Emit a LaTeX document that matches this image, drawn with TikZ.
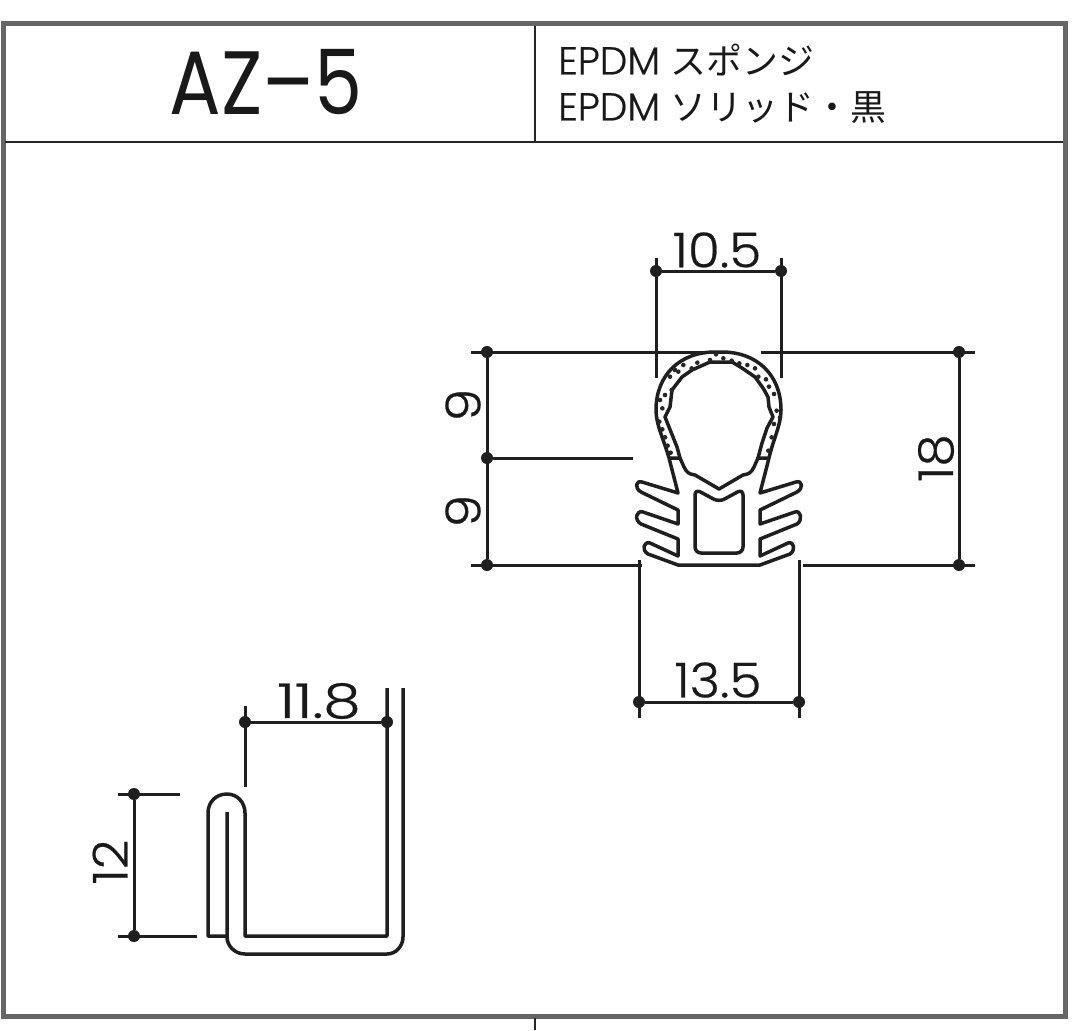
\documentclass[tikz,border=0pt]{standalone}
\usepackage{fontspec}
\setmainfont{Poppins}[UprightFont=* Light]
\newfontfamily\dimfont{Poppins}[UprightFont=* Light,FakeBold=0.5]
\newfontfamily\titlefont{Poppins}
\newfontfamily\jpfont{Noto Sans CJK JP}[Scale=0.92]
\tikzset{
  frameline/.style={draw=black!60,line width=5pt},
  thinline/.style={draw=black!85,line width=1.5pt},
  dimline/.style={draw=black!88,line width=3pt},
  profile/.style={draw=black!88,line width=3.5pt,line join=round},
  dimdot/.style={circle,fill=black!88,inner sep=0pt,minimum size=12pt},
  spk/.style={circle,fill=black!85,inner sep=0pt,minimum size=4.6pt},
  dimtext/.style={inner sep=0pt,font=\dimfont\fontsize{48}{48}\selectfont,text=black!90},
  headtext/.style={inner sep=0pt,anchor=west,text=black!90,font=\dimfont\fontsize{39}{42}\selectfont}
}
\begin{document}
\begin{tikzpicture}[x=1pt,y=-1pt]
\useasboundingbox (0,0) rectangle (1078,1030);
% frame
\draw[frameline] (3,1016) -- (3,24) -- (1065,24) -- (1065,1016) -- cycle;
\coordinate (hl) at (5,142); \coordinate (hr) at (1063,142);
\draw[thinline] (hl) -- (hr);
\coordinate (vt) at (535,26); \coordinate (vb) at (535,142);
\draw[thinline] (vt) -- (vb);
\coordinate (tt) at (535,1018); \coordinate (tb) at (535,1030);
\draw[thinline] (tt) -- (tb);
% header
\node[inner sep=0pt,text=black!90,xscale=0.85] (title) at (266,82) {\titlefont\fontsize{90}{90}\selectfont AZ–5};
\node[headtext] (l1) at (558,60) {EPDM {\jpfont スポンジ}};
\node[headtext] (l2) at (558,107.5) {EPDM {\jpfont ソリッド・黒}};
% top drawing: spongy band
\draw[profile] (669,458)
  .. controls (664,440) and (656,425) .. (656,410)
  .. controls (656,375) and (680,352) .. (715,352) -- (722,352)
  .. controls (757,352) and (781,375) .. (781,410)
  .. controls (781,425) and (773,440) .. (769,458);
\draw[profile] (669,458) -- (678,493) -- (642,482)
  .. controls (636,480) and (634,488) .. (641,492)
  -- (678,510) -- (678,524) -- (643,512)
  .. controls (636,510) and (634,520) .. (641,524)
  -- (678,539) -- (678,556) -- (650,543)
  .. controls (644,541) and (641,550) .. (648,554)
  -- (678,565) -- (760,565) -- (790,554)
  .. controls (796,550) and (794,541) .. (788,543)
  -- (760,556) -- (760,539) -- (797,524)
  .. controls (803,520) and (801,510) .. (795,512)
  -- (760,524) -- (760,510) -- (797,492)
  .. controls (804,488) and (802,480) .. (796,482)
  -- (760,493) -- (769,458);
% inner bulb
\draw[profile] (669,458) -- (680,458) -- (684,467) .. controls (687,473) and (689,474) .. (695,475) -- (719,489) -- (743,475) .. controls (749,474) and (751,473) .. (754,467) -- (758,458) -- (769,458);
\draw[profile] (680,458) -- (677,447) -- (665,417) -- (670,407) -- (672,390) -- (682,377) -- (692,370) -- (710,362) -- (732,362) -- (742,368) -- (755,377) -- (763,388) -- (768,397) -- (769,407) -- (773,417) -- (767,428) -- (762,443) -- (758,458);
% inner box
\draw[profile,rounded corners=6pt] (695,489) -- (719,502) -- (743,489) -- (743,553) -- (695,553) -- cycle;
% speckles
\foreach \X/\Y in {288/73,310/85,335/92,358/100,382/105,405/115,415/140,438/148,447/170,462/192,470/242,480/262,462/282,455/322,445/362,232/98,215/115,270/90,190/105,175/125,155/180,135/195,120/210,127/235,118/275,127/298,135/322,143/347,152/368,165/120,150/140}
  \node[spk] at ({620+\X/3},{330+\Y/3}) {};
% top dimensions
\node[dimdot] (a1) at (656,271) {}; \node[dimdot] (a2) at (781,271) {};
\coordinate (a1t) at (656,258); \coordinate (a1b) at (656,378);
\coordinate (a2t) at (781,258); \coordinate (a2b) at (781,378);
\draw[dimline] (a1) -- (a2) (a1t) -- (a1b) (a2t) -- (a2b);
\node[dimtext,xscale=1.08] (t105) at (717,250) {10.5};

\node[dimdot] (b1) at (487,352) {}; \node[dimdot] (b2) at (487,458) {}; \node[dimdot] (b3) at (487,565) {};
\node[dimdot] (c1) at (959,352) {}; \node[dimdot] (c3) at (959,565) {};
\coordinate (b1l) at (471,352); \coordinate (b1r) at (705,352);
\coordinate (b2r) at (633,458);
\coordinate (b3l) at (471,565); \coordinate (b3r) at (642,565);
\coordinate (c1l) at (761,352); \coordinate (c1r) at (975,352);
\coordinate (c3l) at (803,565); \coordinate (c3r) at (975,565);
\draw[dimline] (b1l) -- (b1r) (b2) -- (b2r) (b3l) -- (b3r) (c1l) -- (c1r) (c3l) -- (c3r) (b1) -- (b3) (c1) -- (c3);
\node[dimtext,rotate=90,xscale=1.08] (t9a) at (463,405) {9};
\node[dimtext,rotate=90,xscale=1.08] (t9b) at (463,511) {9};
\node[dimtext,rotate=90,xscale=1.08] (t18) at (936,458) {18};

\node[dimdot] (d1) at (639,702) {}; \node[dimdot] (d2) at (799,702) {};
\coordinate (d1t) at (639,560); \coordinate (d1b) at (639,718);
\coordinate (d2t) at (799,560); \coordinate (d2b) at (799,718);
\draw[dimline] (d1) -- (d2) (d1t) -- (d1b) (d2t) -- (d2b);
\node[dimtext,xscale=1.08] (t135) at (718,680) {13.5};
% lower drawing
\draw[profile] (387,688) -- (387,936) -- (245,936) -- (245,813)
  .. controls (245,802) and (237,794) .. (227,794)
  .. controls (216,794) and (208,802) .. (208,813)
  -- (208,936) -- (227,936);
\draw[profile] (227,812) -- (227,937)
  .. controls (227,946) and (235,954) .. (245,954)
  -- (387,954) .. controls (396,954) and (403,946) .. (403,937) -- (403,688);
\node[dimdot] (e1) at (245,722) {}; \node[dimdot] (e2) at (387,722) {};
\coordinate (e1t) at (245,706); \coordinate (e1b) at (245,787);
\draw[dimline] (e1) -- (e2) (e1t) -- (e1b);
\node[dimtext,xscale=1.25] (t118) at (319,701) {11.8};
\node[dimdot] (f1) at (134,794) {}; \node[dimdot] (f2) at (134,936) {};
\coordinate (f1l) at (118,794); \coordinate (f1r) at (180,794);
\coordinate (f2l) at (118,936); \coordinate (f2r) at (197,936);
\draw[dimline] (f1l) -- (f1r) (f2l) -- (f2r) (f1) -- (f2);
\node[dimtext,rotate=90,xscale=1.08] (t12) at (110,862) {12};
\end{tikzpicture}
\end{document}
